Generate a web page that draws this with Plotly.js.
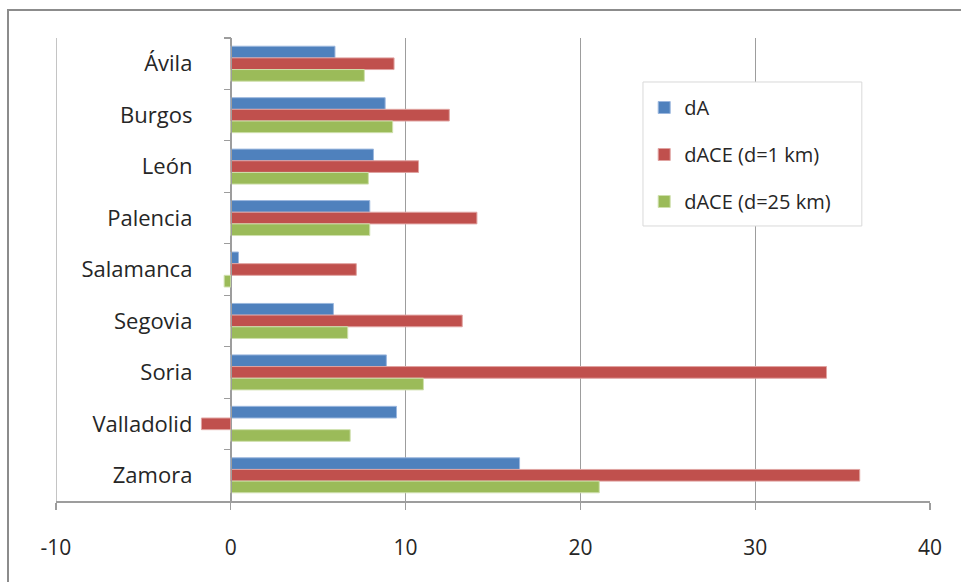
<!DOCTYPE html>
<html>
<head>
<meta charset="utf-8">
<script src="https://cdn.plot.ly/plotly-3.0.1.min.js"></script>
<style>
  html, body { margin: 0; padding: 0; background: #fff; }
  #chart { position: absolute; left: 0; top: 0; width: 961px; height: 582px; }
  #frame { position: absolute; left: 7px; top: 9px; width: 970px; height: 590px;
           border-left: 2px solid #8c8c8c; border-top: 2px solid #8c8c8c; pointer-events: none; }
</style>
</head>
<body>
<div id="chart"></div>
<div id="frame"></div>
<script>
const categories = ["Ávila", "Burgos", "León", "Palencia", "Salamanca", "Segovia", "Soria", "Valladolid", "Zamora"];
const dA =      [5.96, 8.83, 8.16, 7.95, 0.44, 5.87, 8.9, 9.48, 16.52];
const dACE1 =   [9.34, 12.5, 10.74, 14.08, 7.18, 13.24, 34.08, -1.68, 35.98];
const dACE25 =  [7.64, 9.26, 7.87, 7.95, -0.38, 6.69, 11.02, 6.83, 21.08];
const seriesNames = ["dA", "dACE (d=1 km)", "dACE (d=25 km)"];
const xTicks = [-10, 0, 10, 20, 30, 40];

const colors = ["#4F81BD", "#C0504D", "#9BBB59"];
const lineColors = ["#9bb7de", "#e0a3a1", "#cfe0ad"];
const font = "'Open Sans', 'Noto Sans', sans-serif";
const gridCol = "#9d9d9d";

const traces = [dA, dACE1, dACE25].map((vals, i) => ({
  type: "bar",
  orientation: "h",
  name: seriesNames[i],
  legendgroup: "g" + i,
  x: vals,
  y: categories,
  marker: { color: colors[i], line: { color: lineColors[i], width: 1 } },
  hoverinfo: "x+y+name"
}));

const layout = {
  width: 961,
  height: 582,
  margin: { l: 56, r: 31, t: 38, b: 81 },
  paper_bgcolor: "#ffffff",
  plot_bgcolor: "#ffffff",
  barmode: "group",
  bargap: 0.32,
  bargroupgap: 0,
  font: { family: font, color: "#262626", size: 22 },
  xaxis: {
    range: [-10, 40],
    tickvals: xTicks,
    ticktext: xTicks.map(String),
    showgrid: true,
    gridcolor: gridCol,
    gridwidth: 1.2,
    zeroline: false,
    showline: true,
    linecolor: gridCol,
    linewidth: 1.5,
    ticks: "outside",
    ticklen: 7,
    tickcolor: gridCol,
    tickwidth: 1.2,
    ticklabelstandoff: 20,
    tickfont: { family: font, size: 21, color: "#262626" },
    fixedrange: true
  },
  yaxis: {
    type: "category",
    autorange: "reversed",
    anchor: "free",
    position: 0.2,
    showgrid: false,
    zeroline: false,
    showline: true,
    linecolor: gridCol,
    linewidth: 1.5,
    ticks: "outside",
    tickson: "boundaries",
    ticklen: 7,
    tickcolor: gridCol,
    tickwidth: 1.2,
    ticklabelstandoff: 34,
    tickfont: { family: font, size: 22, color: "#262626" },
    fixedrange: true
  },
  shapes: [
    {
      type: "line", xref: "x", yref: "paper",
      x0: xTicks[0], x1: xTicks[0], y0: 0, y1: 1,
      line: { color: gridCol, width: 1.2 }, layer: "below"
    },
    {
      type: "rect", xref: "paper", yref: "paper",
      x0: 0.6716, x1: 0.922, y0: 0.594, y1: 0.905,
      fillcolor: "#ffffff", line: { color: "#d9d9d9", width: 1 }, layer: "above"
    }
  ],
  legend: {
    x: 0.673,
    y: 0.892,
    xanchor: "left",
    yanchor: "top",
    bgcolor: "rgba(0,0,0,0)",
    borderwidth: 0,
    font: { family: font, size: 20, color: "#262626" },
    traceorder: "grouped",
    tracegroupgap: 18,
    itemwidth: 30
  },
  showlegend: true
};

Plotly.newPlot("chart", traces, layout, { displayModeBar: false, staticPlot: true });
</script>
</body>
</html>
